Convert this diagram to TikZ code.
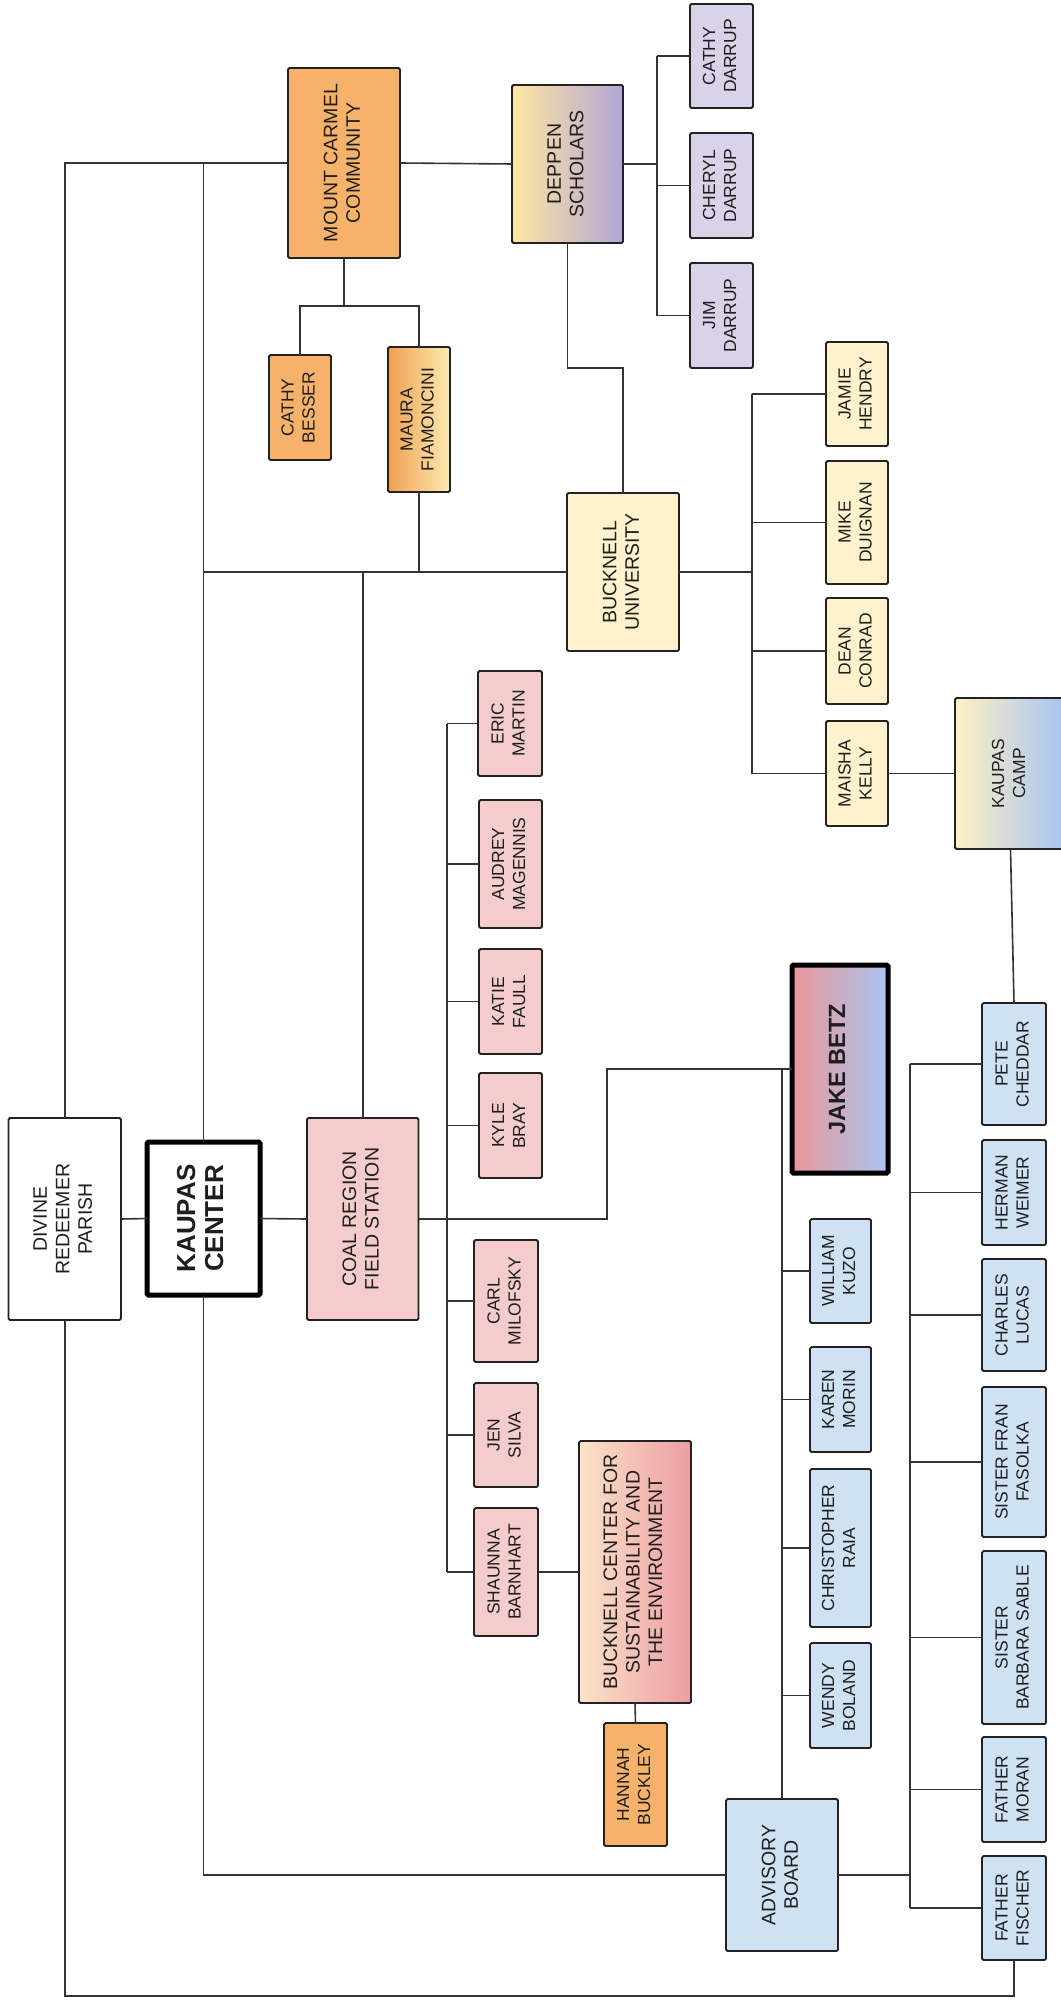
\documentclass[tikz,border=0pt]{standalone}
\usepackage{fontspec}
\setmainfont{Liberation Sans}
\usepackage{graphicx}
\definecolor{orng}{HTML}{F6B26B}
\definecolor{pinkc}{HTML}{F4CCCC}
\definecolor{bluec}{HTML}{CFE2F3}
\definecolor{yelc}{HTML}{FFF2CC}
\definecolor{lavc}{HTML}{D9D2E9}
\definecolor{boxline}{HTML}{222222}
\definecolor{connc}{HTML}{333333}
\definecolor{txt}{HTML}{1E1E1E}
\definecolor{mauraL}{HTML}{F0A152}
\definecolor{mauraR}{HTML}{FCEBB0}
\newcommand\rtxt[1]{\rotatebox{90}{\begin{tabular}{@{}c@{}}#1\end{tabular}}}
\newcommand\bx[7]{\node[box,#1,minimum width={(#5-#3)*1pt},minimum height={(#6-#4)*1pt}] (#2) at ({(#3+#5)/2},{(#4+#6)/2}) {\rtxt{#7}};}
\tikzset{
  box/.style={draw=boxline, line width=1.8pt, rounded corners=1.5pt, inner sep=0pt, outer sep=0pt, text=txt, font=\fontsize{17.5}{21}\selectfont},
  big/.style={font=\fontsize{19.5}{22.5}\selectfont},
  heavy/.style={line width=5pt, draw=black},
  conn/.style={draw=connc, line width=1.6pt},
}
\begin{document}
\begin{tikzpicture}[x=1pt,y=-1pt]
\useasboundingbox (0,0) rectangle (1060,2001);
\fill[white] (0,0) rectangle (1060,2001);
% top group
\bx{fill=orng,big}{mount}{288}{68}{400}{258}{MOUNT CARMEL\\COMMUNITY}
\bx{fill=orng}{besser}{269}{355}{331}{460}{CATHY\\BESSER}
\bx{left color=mauraL,right color=mauraR}{maura}{388}{347}{450}{492}{MAURA\\FIAMONCINI}
\bx{big,left color={rgb,255:red,255;green,231;blue,160},middle color={rgb,255:red,240;green,233;blue,222},right color={rgb,255:red,178;green,166;blue,216}}{deppen}{512}{85}{623}{243}{DEPPEN\\SCHOLARS}
\bx{fill=lavc}{cdarrup}{690}{4}{753}{108}{CATHY\\DARRUP}
\bx{fill=lavc}{cheryl}{690}{133}{753}{238}{CHERYL\\DARRUP}
\bx{fill=lavc}{jim}{690}{263}{753}{368}{JIM\\DARRUP}
\bx{fill=yelc,big}{bucknell}{567}{493}{679}{651}{BUCKNELL\\UNIVERSITY}
\bx{fill=yelc}{jamie}{826}{342}{888}{446}{JAMIE\\HENDRY}
\bx{fill=yelc}{mike}{826}{461}{888}{584}{MIKE\\DUIGNAN}
\bx{fill=yelc}{dean}{826}{598}{888}{704}{DEAN\\CONRAD}
\bx{fill=yelc}{maisha}{826}{721}{888}{826}{MAISHA\\KELLY}
\bx{left color={rgb,255:red,255;green,240;blue,196},middle color={rgb,255:red,255;green,224;blue,140},right color={rgb,255:red,166;green,196;blue,242}}{camp}{955}{698}{1066}{849}{KAUPAS\\CAMP}
% middle row
\bx{fill=white,big}{divine}{8.5}{1118}{121}{1320}{DIVINE\\REDEEMER\\PARISH}
\bx{fill=white,heavy,font=\fontsize{26}{28}\selectfont\bfseries}{kaupas}{147}{1142}{260}{1295}{KAUPAS\\CENTER}
\bx{fill=pinkc,big}{coal}{307}{1118}{418.5}{1320}{COAL REGION\\FIELD STATION}
\bx{fill=pinkc}{eric}{478}{671}{542}{776}{ERIC\\MARTIN}
\bx{fill=pinkc}{audrey}{479}{800}{542}{928}{AUDREY\\MAGENNIS}
\bx{fill=pinkc}{katie}{479}{949}{542}{1054}{KATIE\\FAULL}
\bx{fill=pinkc}{kyle}{479}{1073}{542}{1178}{KYLE\\BRAY}
\bx{fill=pinkc}{carl}{474}{1240}{538}{1362}{CARL\\MILOFSKY}
\bx{fill=pinkc}{jen}{474}{1383}{538}{1487}{JEN\\SILVA}
\bx{fill=pinkc}{shaunna}{474}{1508}{538}{1636}{SHAUNNA\\BARNHART}
\bx{heavy,left color={rgb,255:red,234;green,150;blue,152},middle color={rgb,255:red,240;green,214;blue,222},right color={rgb,255:red,169;green,198;blue,242},font=\fontsize{23.5}{26}\selectfont\bfseries}{jake}{792}{965}{888}{1173}{JAKE BETZ}
\bx{big,left color={rgb,255:red,252;green,227;blue,200},middle color={rgb,255:red,249;green,201;blue,154},right color={rgb,255:red,236;green,157;blue,163}}{bcse}{579}{1441}{691}{1703}{BUCKNELL CENTER FOR\\SUSTAINABILITY AND\\THE ENVIRONMENT}
\bx{fill=orng}{hannah}{604}{1723}{667}{1846}{HANNAH\\BUCKLEY}
\bx{fill=bluec,big}{advisory}{726}{1799}{838}{1951}{ADVISORY\\BOARD}
\bx{fill=bluec}{william}{810}{1219}{871}{1323}{WILLIAM\\KUZO}
\bx{fill=bluec}{karen}{810}{1347}{871}{1452}{KAREN\\MORIN}
\bx{fill=bluec}{chris}{810}{1469}{871}{1627}{CHRISTOPHER\\RAIA}
\bx{fill=bluec}{wendy}{810}{1643}{871}{1748}{WENDY\\BOLAND}
\bx{fill=bluec}{pete}{982}{1003}{1046}{1125}{PETE\\CHEDDAR}
\bx{fill=bluec}{herman}{982}{1140}{1046}{1245}{HERMAN\\WEIMER}
\bx{fill=bluec}{charles}{982}{1259}{1046}{1371}{CHARLES\\LUCAS}
\bx{fill=bluec}{fran}{982}{1387}{1046}{1537}{SISTER FRAN\\FASOLKA}
\bx{fill=bluec}{barbara}{982}{1551}{1046}{1724}{SISTER\\BARBARA SABLE}
\bx{fill=bluec}{moran}{982}{1737}{1046}{1842}{FATHER\\MORAN}
\bx{fill=bluec}{fischer}{982}{1856}{1046}{1960}{FATHER\\FISCHER}
% bus coordinates
\coordinate (mf) at (344,306);
\coordinate (db) at (657,0);
\coordinate (bb) at (752,0);
\coordinate (cj) at (607,0);
\coordinate (cb) at (447,0);
\coordinate (jb) at (782,0);
\coordinate (ab) at (910,0);
% connectors
\draw[conn] (divine.north) |- (mount.west);
\draw[conn] (kaupas.north) -- (kaupas.north |- mount.west);
\draw[conn] (kaupas.north |- bucknell.west) -- (bucknell.west);
\draw[conn] (maura.south) -- (maura.south |- bucknell.west);
\draw[conn] (coal.north) -- (coal.north |- bucknell.west);
\draw[conn] (divine.east) -- (kaupas.west);
\draw[conn] (kaupas.east) -- (coal.west);
\draw[conn] (mount.south) -- (mf);
\draw[conn] (besser.north) |- (mf) -| (maura.north);
\draw[conn] (mount.east) -- (deppen.west);
\draw[conn] (deppen.east) -- (deppen.east -| db);
\draw[conn] (db |- cdarrup.west) -- (db |- jim.west);
\foreach \n in {cdarrup,cheryl,jim} \draw[conn] (db |- \n.west) -- (\n.west);
\draw[conn] (deppen.south) -- ++(0,125) -| (bucknell.north);
\draw[conn] (bucknell.east) -- (bucknell.east -| bb);
\draw[conn] (bb |- jamie.west) -- (bb |- maisha.west);
\foreach \n in {jamie,mike,dean,maisha} \draw[conn] (bb |- \n.west) -- (\n.west);
\draw[conn] (maisha.east) -- (camp.west);
\draw[conn] (camp.south) -- (pete.north);
\draw[conn] (coal.east) -- (coal.east -| cj) |- (jake.west);
\draw[conn] (cb |- eric.west) -- (cb |- shaunna.west);
\foreach \n in {eric,audrey,katie,kyle,carl,jen,shaunna} \draw[conn] (cb |- \n.west) -- (\n.west);
\draw[conn] (shaunna.east) -- (bcse.west);
\draw[conn] (bcse.south) -- (hannah.north);
\draw[conn] (jb |- jake.west) -- (advisory.north);
\foreach \n in {william,karen,chris,wendy} \draw[conn] (jb |- \n.west) -- (\n.west);
\draw[conn] (kaupas.south) |- (advisory.west);
\draw[conn] (advisory.east) -- (advisory.east -| ab);
\draw[conn] (ab |- pete.west) -- (ab |- fischer.west);
\foreach \n in {pete,herman,charles,fran,barbara,moran,fischer} \draw[conn] (ab |- \n.west) -- (\n.west);
\draw[conn] (fischer.south) -- ++(0,36) -| (divine.south);
\end{tikzpicture}
\end{document}
